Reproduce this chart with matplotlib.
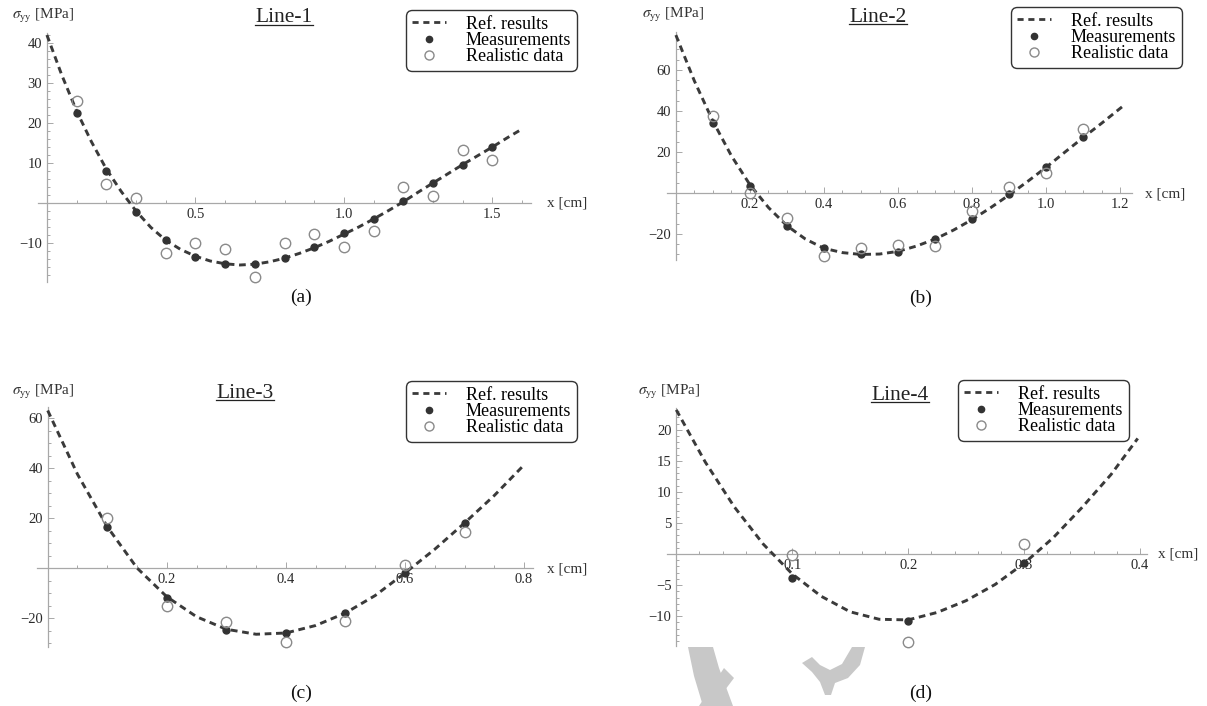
import matplotlib
matplotlib.use('Agg')
import matplotlib.pyplot as plt
from matplotlib.lines import Line2D
from matplotlib.patches import Polygon
from matplotlib.ticker import FixedLocator, MultipleLocator

plt.rcParams['font.family'] = ['Liberation Serif', 'DejaVu Serif']
plt.rcParams['mathtext.fontset'] = 'stix'

W, H = 1207, 706

# ---------------- data ----------------
legend_labels = ['Ref. results', 'Measurements', 'Realistic data']
titles = ['Line-1', 'Line-2', 'Line-3', 'Line-4']
panel_tags = ['(a)', '(b)', '(c)', '(d)']

a_ref_x = [0.0, 0.05, 0.1, 0.15, 0.2, 0.25, 0.3, 0.35, 0.4, 0.45, 0.5, 0.55, 0.6, 0.65, 0.7,
           0.75, 0.8, 0.85, 0.9, 0.95, 1.0, 1.05, 1.1, 1.15, 1.2, 1.25, 1.3, 1.35, 1.4, 1.45,
           1.5, 1.55, 1.6]
a_ref_y = [42, 32, 23, 15.3, 8.5, 2.9, -2, -6.1, -9.3, -11.6, -13.3, -14.5, -15.2, -15.5, -15.3,
           -14.7, -13.8, -12.6, -11.2, -9.6, -7.8, -6, -4, -1.9, 0.3, 2.7, 5, 7.3, 9.6, 11.8,
           14, 16.3, 18.5]
a_pts_x = [0.1, 0.2, 0.3, 0.4, 0.5, 0.6, 0.7, 0.8, 0.9, 1.0, 1.1, 1.2, 1.3, 1.4, 1.5]
a_meas = [22.5, 8, -2.3, -9.3, -13.4, -15.2, -15.2, -13.7, -11.1, -7.6, -3.9, 0.5, 5, 9.6, 14]
a_real = [25.5, 4.7, 1.2, -12.6, -9.9, -11.6, -18.4, -10, -7.8, -10.9, -7, 4, 1.8, 13.2, 10.8]
a_xticks = [0.5, 1.0, 1.5]
a_xticklabels = ['0.5', '1.0', '1.5']
a_yticks = [-10, 10, 20, 30, 40]

b_ref_x = [0.0, 0.05, 0.1, 0.15, 0.2, 0.25, 0.3, 0.35, 0.4, 0.45, 0.5, 0.55, 0.6, 0.65, 0.7,
           0.75, 0.8, 0.85, 0.9, 0.95, 1.0, 1.05, 1.1, 1.15, 1.21]
b_ref_y = [77, 54.6, 35, 18.1, 4, -7.1, -16, -22.5, -27, -29.1, -30, -29.8, -28.5, -25.9, -22.5,
           -18.1, -13, -7.2, -1, 5.6, 12.5, 19.8, 27, 34, 42.7]
b_pts_x = [0.1, 0.2, 0.3, 0.4, 0.5, 0.6, 0.7, 0.8, 0.9, 1.0, 1.1]
b_meas = [34, 3.5, -16, -27, -30, -28.6, -22.6, -12.8, -0.6, 12.8, 27.5]
b_real = [37.5, 0, -12.4, -30.6, -27, -25.4, -25.9, -9, 3, 9.6, 31]
b_xticks = [0.2, 0.4, 0.6, 0.8, 1.0, 1.2]
b_xticklabels = ['0.2', '0.4', '0.6', '0.8', '1.0', '1.2']
b_yticks = [-20, 20, 40, 60]

c_ref_x = [0.0, 0.05, 0.1, 0.15, 0.2, 0.25, 0.3, 0.35, 0.4, 0.45, 0.5, 0.55, 0.6, 0.65, 0.7,
           0.75, 0.797]
c_ref_y = [63, 37.5, 16.5, 0, -11.5, -19.5, -24.5, -26.5, -26, -23, -18, -11, -2, 7.5, 18,
           29, 40.5]
c_pts_x = [0.1, 0.2, 0.3, 0.4, 0.5, 0.6, 0.7]
c_meas = [16.4, -12, -24.8, -26, -18, -2, 18]
c_real = [20, -15.2, -21.5, -29.5, -21.2, 1.2, 14.4]
c_xticks = [0.2, 0.4, 0.6, 0.8]
c_xticklabels = ['0.2', '0.4', '0.6', '0.8']
c_yticks = [-20, 20, 40, 60]

d_ref_x = [0.0, 0.025, 0.05, 0.075, 0.1, 0.125, 0.15, 0.175, 0.2, 0.225, 0.25, 0.275, 0.3,
           0.325, 0.35, 0.375, 0.398]
d_ref_y = [23.2, 14.8, 7.6, 1.6, -3.2, -6.8, -9.3, -10.5, -10.6, -9.4, -7.5, -4.9, -1.5,
           2.6, 7.5, 12.8, 18.6]
d_pts_x = [0.1, 0.2, 0.3]
d_meas = [-3.9, -10.8, -1.5]
d_real = [-0.2, -14.2, 1.6]
d_xticks = [0.1, 0.2, 0.3, 0.4]
d_xticklabels = ['0.1', '0.2', '0.3', '0.4']
d_yticks = [-10, -5, 5, 10, 15, 20]

# ---------------- layout (pixel boxes) ----------------
panels = [
    dict(box=(38, 33, 531, 282), xlim=(-0.03, 1.63), ylim=(-19.75, 42.5),
         rx=a_ref_x, ry=a_ref_y, px=a_pts_x, meas=a_meas, real=a_real,
         xt=a_xticks, xtl=a_xticklabels, yt=a_yticks, xmin=0.1, ymin=2,
         title_xy=(284, 18), tag_xy=(301, 297), ylab_xy=(12, 16), xlab_xy=(547, 203),
         leg_xy=(408, 12)),
    dict(box=(667, 32, 1132, 260), xlim=(-0.024, 1.232), ylim=(-32.7, 78.5),
         rx=b_ref_x, ry=b_ref_y, px=b_pts_x, meas=b_meas, real=b_real,
         xt=b_xticks, xtl=b_xticklabels, yt=b_yticks, xmin=0.05, ymin=5,
         title_xy=(878, 17), tag_xy=(921, 298), ylab_xy=(642, 15), xlab_xy=(1145, 194),
         leg_xy=(1013, 9)),
    dict(box=(37, 407, 533, 647), xlim=(-0.018, 0.815), ylim=(-31.6, 64.4),
         rx=c_ref_x, ry=c_ref_y, px=c_pts_x, meas=c_meas, real=c_real,
         xt=c_xticks, xtl=c_xticklabels, yt=c_yticks, xmin=0.05, ymin=5,
         title_xy=(245, 393), tag_xy=(301, 693), ylab_xy=(12, 392), xlab_xy=(547, 569),
         leg_xy=(408, 383)),
    dict(box=(667, 408, 1147, 646), xlim=(-0.008, 0.406), ylim=(-14.8, 23.5),
         rx=d_ref_x, ry=d_ref_y, px=d_pts_x, meas=d_meas, real=d_real,
         xt=d_xticks, xtl=d_xticklabels, yt=d_yticks, xmin=0.02, ymin=1,
         title_xy=(900, 395), tag_xy=(921, 693), ylab_xy=(638, 392), xlab_xy=(1158, 554),
         leg_xy=(960, 382)),
]

LINE_C = '#3a3a3a'
DOT_C = '#333333'
OPEN_C = '#8a8a8a'
AXIS_C = '#a8a8a8'

fig = plt.figure(figsize=(W / 100, H / 100), dpi=100)
fig.patch.set_facecolor('white')

# light grey watermark fragments at the bottom
wm1 = [(688, 647), (713, 647), (719, 668), (733, 706), (703, 706), (694, 676)]
wm2 = [(724, 668), (734, 678), (713, 706), (699, 706)]
wm3 = [(802, 663), (812, 657), (820, 665), (830, 670), (842, 664), (852, 647), (865, 647),
       (860, 665), (848, 678), (835, 683), (831, 695), (825, 695), (820, 682), (812, 672)]
for poly in (wm1, wm2, wm3):
    fig.add_artist(Polygon([(x / W, 1 - y / H) for x, y in poly], closed=True,
                           transform=fig.transFigure, facecolor='#c8c8c8',
                           edgecolor='none', zorder=0))


def fx(x):
    return x / W


def fy(y):
    return 1 - y / H


title_texts = []
for i, p in enumerate(panels):
    l, t, r, b = p['box']
    ax = fig.add_axes([l / W, 1 - b / H, (r - l) / W, (b - t) / H])
    ax.set_facecolor('none')
    ax.set_xlim(*p['xlim'])
    ax.set_ylim(*p['ylim'])
    for s in ('top', 'right'):
        ax.spines[s].set_visible(False)
    ax.spines['left'].set_position(('data', 0))
    ax.spines['bottom'].set_position(('data', 0))
    for s in ('left', 'bottom'):
        ax.spines[s].set_color(AXIS_C)
        ax.spines[s].set_linewidth(0.9)
    ax.xaxis.set_major_locator(FixedLocator(p['xt']))
    ax.set_xticklabels(p['xtl'])
    ax.xaxis.set_minor_locator(MultipleLocator(p['xmin']))
    ax.yaxis.set_major_locator(FixedLocator(p['yt']))
    ax.yaxis.set_minor_locator(MultipleLocator(p['ymin']))
    ax.tick_params(which='both', direction='in', color=AXIS_C, labelsize=10.5,
                   labelcolor='#2a2a2a', width=0.7)
    ax.tick_params(which='major', length=4, pad=3.5)
    ax.tick_params(which='minor', length=2)

    ax.plot(p['rx'], p['ry'], color=LINE_C, lw=2.1, dashes=(2.3, 1.6),
            solid_capstyle='butt', dash_capstyle='butt', clip_on=False, zorder=3)
    ax.plot(p['px'], p['meas'], ls='none', marker='o', ms=5, mfc=DOT_C, mec=DOT_C,
            clip_on=False, zorder=4)
    ax.plot(p['px'], p['real'], ls='none', marker='o', ms=7.5, mfc='none', mec=OPEN_C,
            mew=1.0, clip_on=False, zorder=5)

    handles = [Line2D([], [], color=LINE_C, lw=2.0, dashes=(2.2, 1.7)),
               Line2D([], [], ls='none', marker='o', ms=4.5, mfc=DOT_C, mec=DOT_C),
               Line2D([], [], ls='none', marker='o', ms=6.5, mfc='none', mec=OPEN_C)]
    lx, ly = p['leg_xy']
    leg = ax.legend(handles, legend_labels, loc='upper left',
                    bbox_to_anchor=(fx(lx), fy(ly)), bbox_transform=fig.transFigure,
                    fontsize=13, frameon=True, fancybox=True, edgecolor='#333333',
                    framealpha=1, handlelength=1.9, handletextpad=1.1,
                    labelspacing=-0.04, borderpad=0.2, borderaxespad=0)
    leg.get_frame().set_linewidth(1.0)
    leg.get_frame().set_boxstyle('round,pad=0.1,rounding_size=0.3')

    tx, ty = p['title_xy']
    tt = fig.text(fx(tx), fy(ty), titles[i], ha='center', va='center', fontsize=15.5,
                  color='#222222')
    title_texts.append(tt)
    gx, gy = p['tag_xy']
    fig.text(fx(gx), fy(gy), panel_tags[i], ha='center', va='center', fontsize=14,
             color='#111111')
    yx, yy = p['ylab_xy']
    fig.text(fx(yx), fy(yy), r'$\sigma_{\mathrm{yy}}$ [MPa]', ha='left', va='center',
             fontsize=11, color='#333333')
    xx, xy = p['xlab_xy']
    fig.text(fx(xx), fy(xy), 'x [cm]', ha='left', va='center', fontsize=11,
             color='#333333')

# underline the titles
fig.canvas.draw()
renderer = fig.canvas.get_renderer()
inv = fig.transFigure.inverted()
for tt in title_texts:
    bb = tt.get_window_extent(renderer).transformed(inv)
    yline = bb.y0 + 0.12 * (bb.y1 - bb.y0)
    fig.add_artist(Line2D([bb.x0, bb.x1], [yline, yline], transform=fig.transFigure,
                          color='#222222', lw=0.9))

fig.savefig('out.png', dpi=100, facecolor='white')
